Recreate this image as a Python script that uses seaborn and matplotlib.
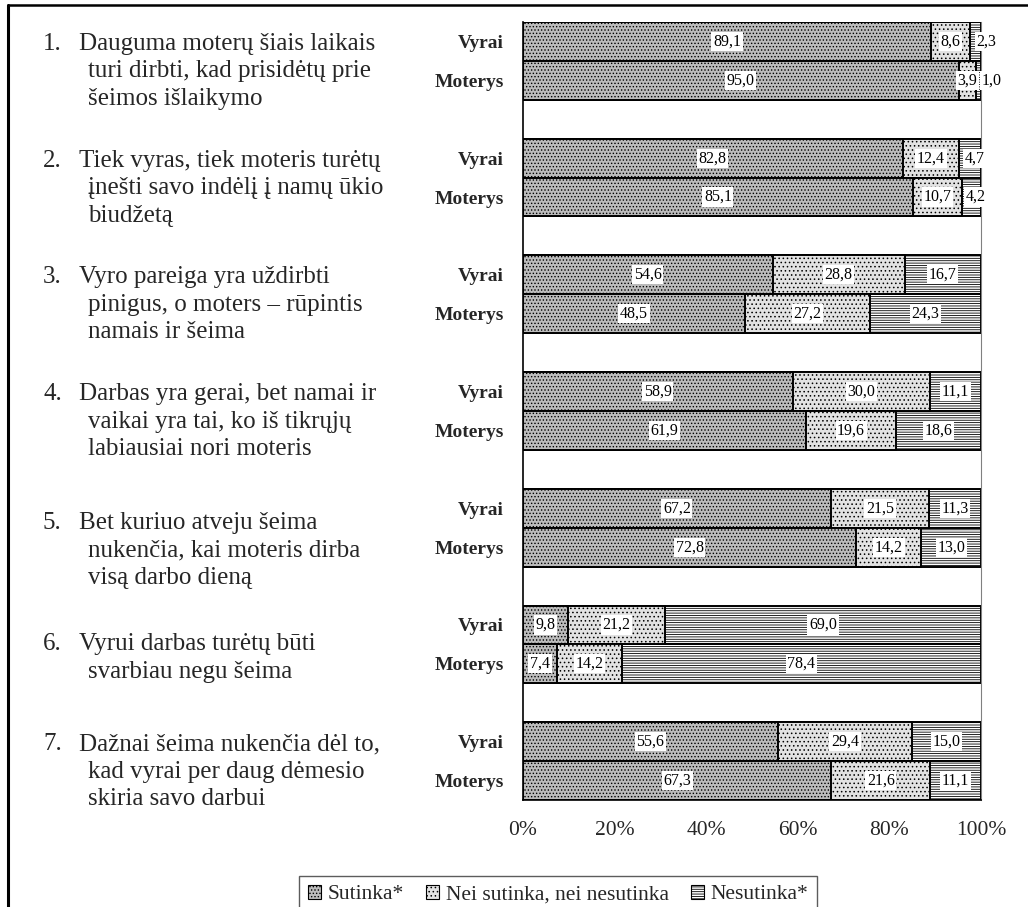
import numpy as np
import pandas as pd
import matplotlib
matplotlib.use("Agg")
import matplotlib.pyplot as plt
import matplotlib.transforms as mtransforms
from matplotlib.patches import Patch
from matplotlib.lines import Line2D
import seaborn as sns

# ---------------- data ----------------
statements = [
    ["Dauguma moterų šiais laikais", "turi dirbti, kad prisidėtų prie", "šeimos išlaikymo"],
    ["Tiek vyras, tiek moteris turėtų", "įnešti savo indėlį į namų ūkio", "biudžetą"],
    ["Vyro pareiga yra uždirbti", "pinigus, o moters – rūpintis", "namais ir šeima"],
    ["Darbas yra gerai, bet namai ir", "vaikai yra tai, ko iš tikrųjų", "labiausiai nori moteris"],
    ["Bet kuriuo atveju šeima", "nukenčia, kai moteris dirba", "visą darbo dieną"],
    ["Vyrui darbas turėtų būti", "svarbiau negu šeima"],
    ["Dažnai šeima nukenčia dėl to,", "kad vyrai per daug dėmesio", "skiria savo darbui"],
]
groups = ["Vyrai", "Moterys"]
categories = ["Sutinka*", "Nei sutinka, nei nesutinka", "Nesutinka*"]

vyrai_sutinka = [89.1, 82.8, 54.6, 58.9, 67.2, 9.8, 55.6]
vyrai_nei = [8.6, 12.4, 28.8, 30.0, 21.5, 21.2, 29.4]
vyrai_nesutinka = [2.3, 4.7, 16.7, 11.1, 11.3, 69.0, 15.0]
moterys_sutinka = [95.0, 85.1, 48.5, 61.9, 72.8, 7.4, 67.3]
moterys_nei = [3.9, 10.7, 27.2, 19.6, 14.2, 14.2, 21.6]
moterys_nesutinka = [1.0, 4.2, 24.3, 18.6, 13.0, 78.4, 11.1]

xtick_values = [0, 20, 40, 60, 80, 100]
xtick_labels = ["0%", "20%", "40%", "60%", "80%", "100%"]

# ---------------- styling ----------------
sns.set_style("white")
plt.rcParams["font.family"] = ["Liberation Serif", "DejaVu Serif"]
plt.rcParams["hatch.linewidth"] = 0.6

fills = {
    "Sutinka*": dict(facecolor="#bcbcbc", hatch="....."),
    "Nei sutinka, nei nesutinka": dict(facecolor="#e2e2e2", hatch="...."),
    "Nesutinka*": dict(facecolor="white", hatch="-------"),
}

# ---------------- table ----------------
rows = []
series = {
    "Vyrai": (vyrai_sutinka, vyrai_nei, vyrai_nesutinka),
    "Moterys": (moterys_sutinka, moterys_nei, moterys_nesutinka),
}
for g in range(len(statements)):
    for k, grp in enumerate(groups):
        vals = [series[grp][c][g] for c in range(3)]
        tot = sum(vals)
        norm = [v / tot * 100 for v in vals]
        cum = np.cumsum(norm)
        start = 0.0
        for c, cat in enumerate(categories):
            rows.append(dict(stmt=g, group=grp, pos=3 * g + k, cat=cat,
                             value=vals[c], share=norm[c], start=start, cum=cum[c]))
            start = cum[c]
df = pd.DataFrame(rows)

# ---------------- figure ----------------
W, H = 1028, 907
fig = plt.figure(figsize=(W / 100, H / 100), dpi=100)
ax = fig.add_axes([523 / W, 1 - 800 / H, (981 - 523) / W, (800 - 22) / H])

for cat in reversed(categories):
    sub = df[df["cat"] == cat]
    sns.barplot(data=sub, x="cum", y="pos", orient="h", native_scale=True,
                width=1.0, errorbar=None, saturation=1, ax=ax,
                edgecolor="black", linewidth=1.4, **fills[cat])

ax.set_xlim(0, 100)
nslots = 3 * len(statements) - 1
ax.set_ylim(nslots - 0.5, -0.5)
ax.set_xlabel("")
ax.set_ylabel("")

# value labels
nudges = {(0, "Moterys", "Nesutinka*"): 2.9, (0, "Vyrai", "Nesutinka*"): 2.3,
          (1, "Vyrai", "Nesutinka*"): 1.0, (1, "Moterys", "Nesutinka*"): 1.0}
for _, r in df.iterrows():
    x = r["start"] + r["share"] / 2 + nudges.get((r["stmt"], r["group"], r["cat"]), 0)
    ax.text(x, r["pos"], f"{r['value']:.1f}".replace(".", ","), ha="center",
            va="center", fontsize=11.5, color="black",
            bbox=dict(facecolor="white", edgecolor="none", pad=1.2))

# axes styling
ax.spines["top"].set_visible(False)
ax.spines["right"].set_color("#808080")
ax.spines["right"].set_linewidth(0.8)
ax.spines["left"].set_color("black")
ax.spines["left"].set_linewidth(1.2)
ax.spines["bottom"].set_color("black")
ax.spines["bottom"].set_linewidth(1.2)

ax.set_xticks(xtick_values)
ax.set_xticklabels(xtick_labels, fontsize=15.5)
ax.tick_params(axis="x", direction="out", length=5, width=1, color="black", pad=10)

ax.set_yticks(np.arange(-0.5, nslots + 0.5, 1.0))
ax.set_yticklabels([])
ax.tick_params(axis="y", which="major", direction="out", length=5, width=1, color="black")
centers = [3 * g + k for g in range(len(statements)) for k in range(2)]
ax.set_yticks(centers, minor=True)
ax.set_yticklabels([groups[k] for g in range(len(statements)) for k in range(2)],
                   minor=True, fontsize=14, fontweight="bold")
ax.tick_params(axis="y", which="minor", length=0, pad=14)

# statement texts (x in figure coords, y in data coords)
trans = mtransforms.blended_transform_factory(fig.transFigure, ax.transData)
slot_px = (800 - 22) / nslots
line_px = 27.5
first_offset_px = [0, 0, 0, 0, 12, 17, 0]
for g, lines in enumerate(statements):
    y0 = 3 * g + first_offset_px[g] / slot_px
    ax.text(43 / W, y0, f"{g + 1}.", transform=trans, ha="left",
            va="center_baseline", fontsize=18)
    for i, line in enumerate(lines):
        x = 79 / W if i == 0 else 88 / W
        ax.text(x, y0 + i * line_px / slot_px, line, transform=trans,
                ha="left", va="center_baseline", fontsize=18, clip_on=False)

# legend
handles = [Patch(edgecolor="black", linewidth=0.8, **fills[c]) for c in categories]
leg = fig.legend(handles, categories, loc="upper left", ncol=3,
                 bbox_to_anchor=(299 / W, 1 - 876 / H), borderaxespad=0,
                 frameon=True, fancybox=False, fontsize=15.5,
                 handlelength=0.6, handleheight=0.6, handletextpad=0.3,
                 columnspacing=1.05, borderpad=0.42)
leg.get_frame().set_edgecolor("#333333")
leg.get_frame().set_linewidth(1.0)

# outer border (top and left edges of the original frame)
fig.add_artist(Line2D([8 / W, 1.0], [1 - 5 / H, 1 - 5 / H], transform=fig.transFigure,
                      color="black", linewidth=1.8))
fig.add_artist(Line2D([8 / W, 8 / W], [1 - 5 / H, 0.0], transform=fig.transFigure,
                      color="black", linewidth=2.2))

fig.savefig("out.png", dpi=100)
